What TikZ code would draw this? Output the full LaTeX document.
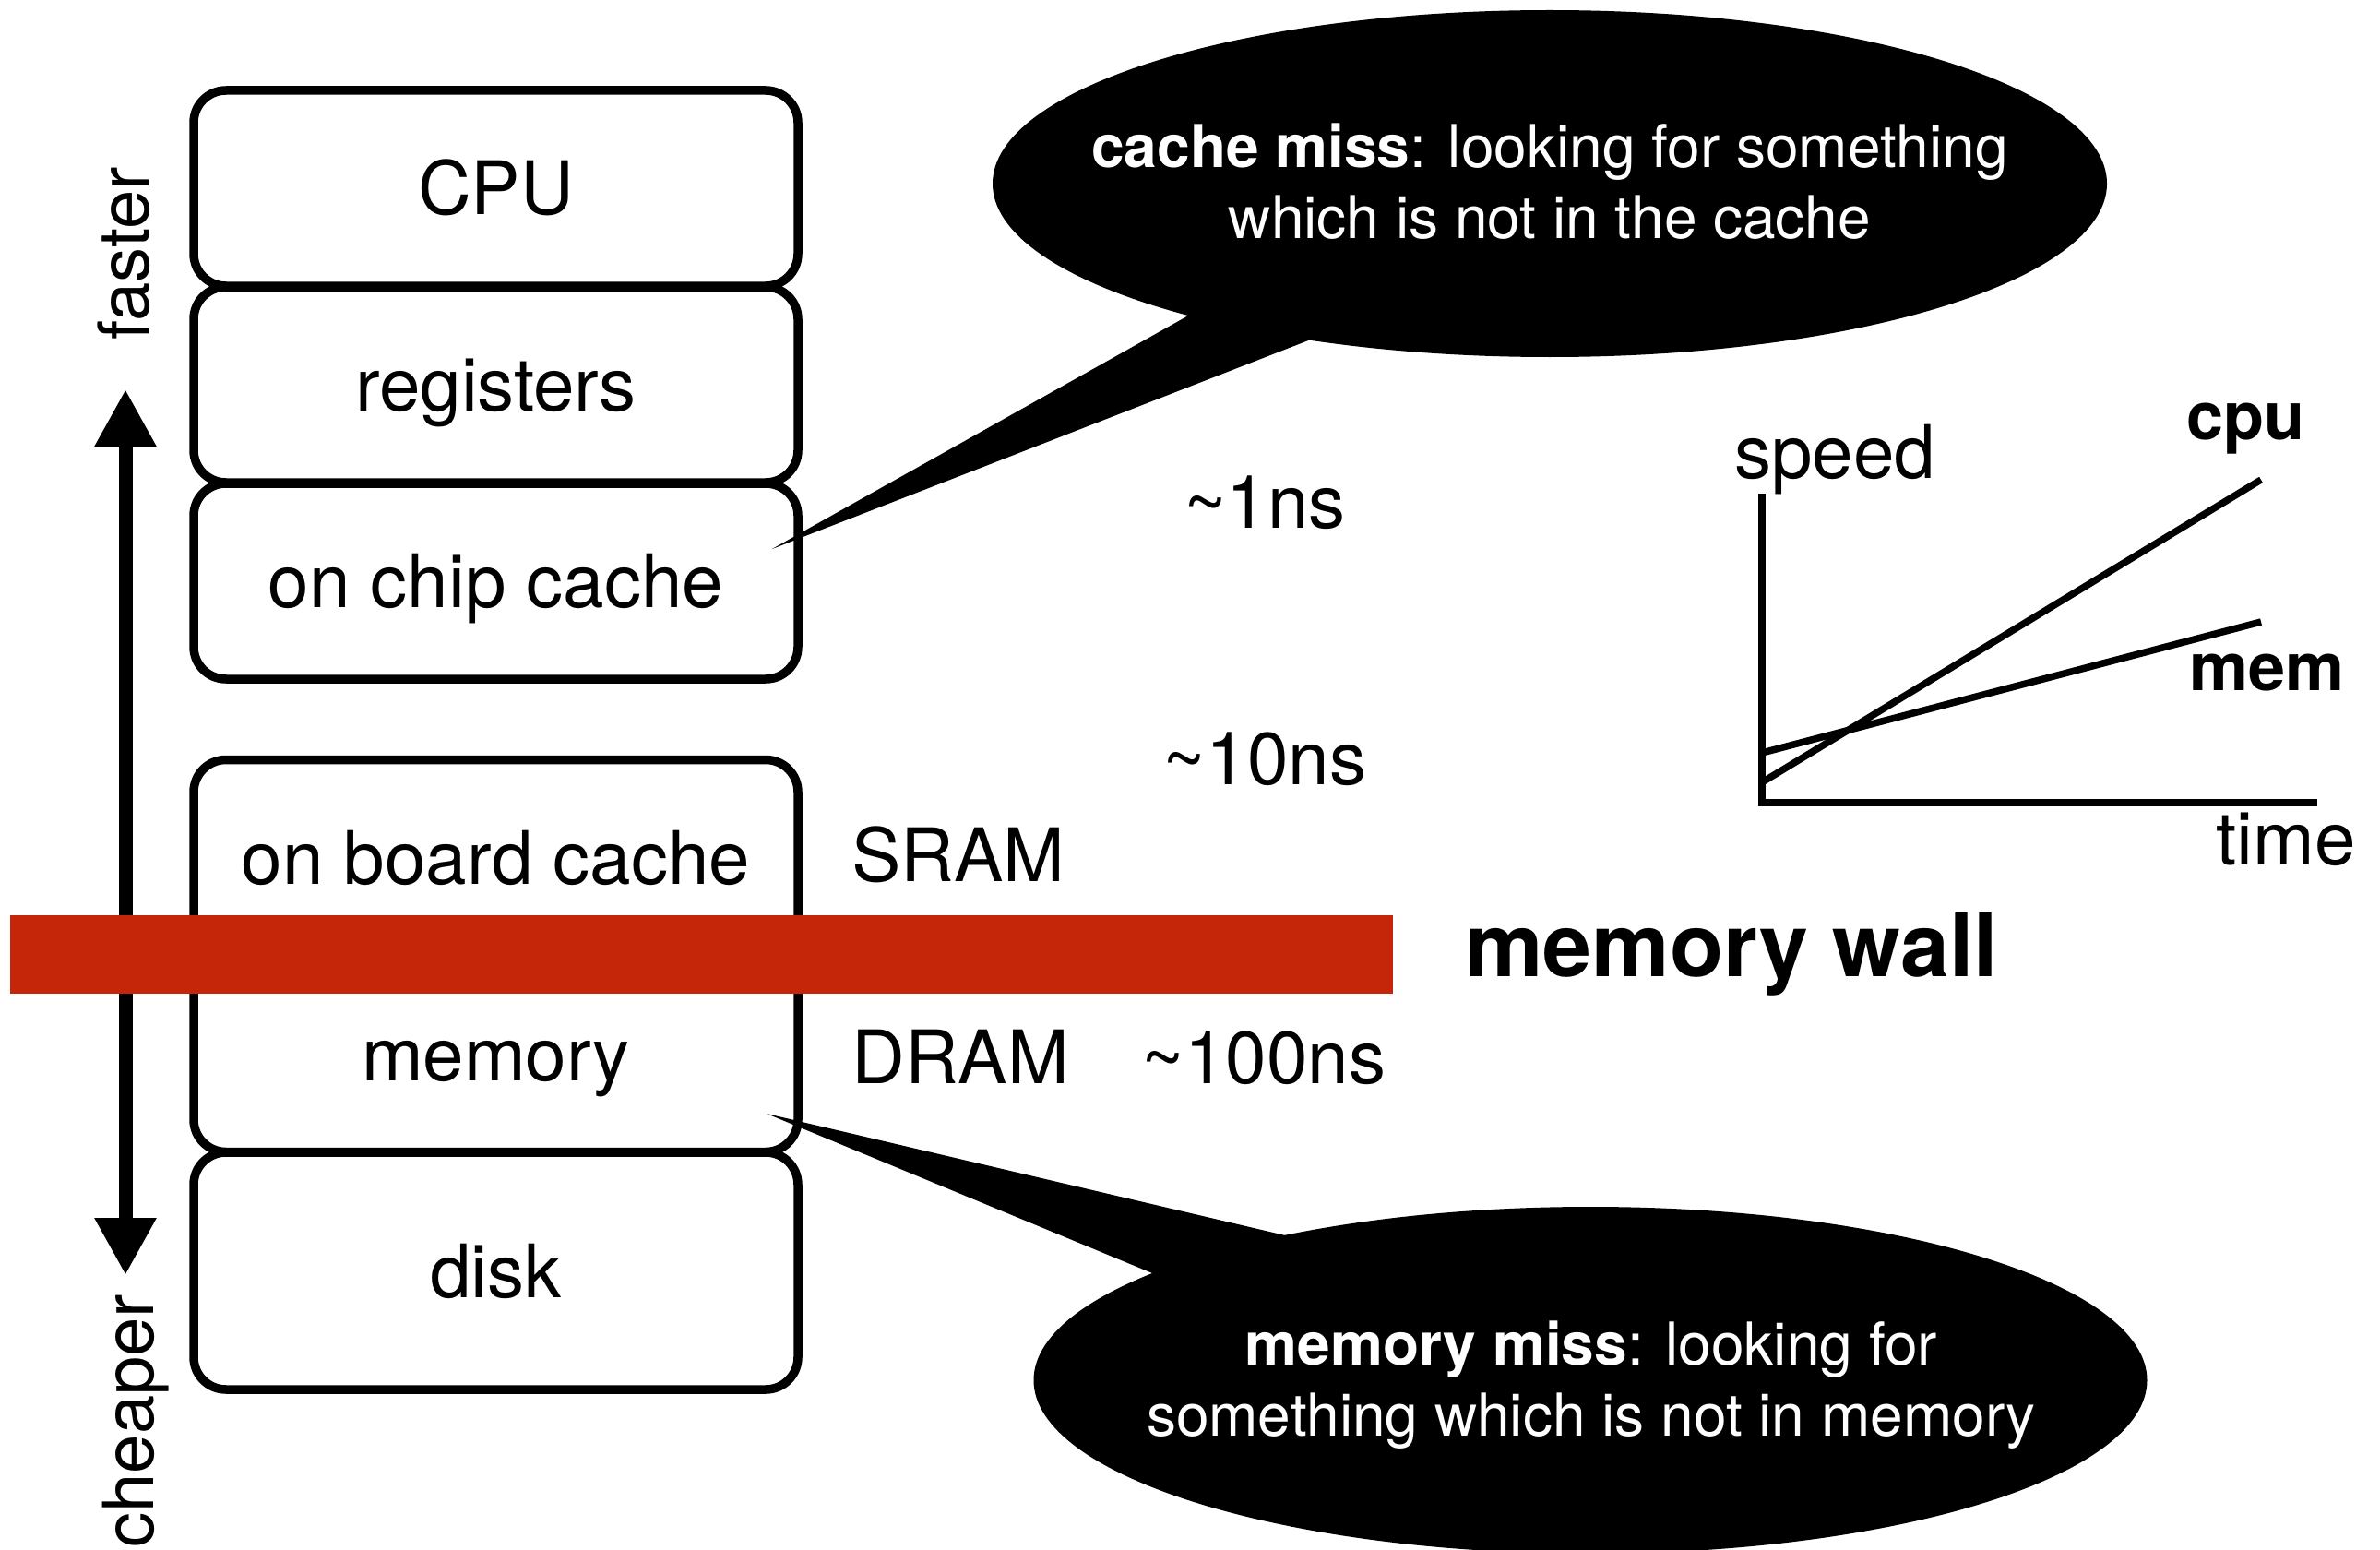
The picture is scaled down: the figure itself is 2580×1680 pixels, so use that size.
\documentclass[tikz,border=0pt]{standalone}
\usepackage{fontspec}
\setmainfont{TeX Gyre Heros}
\usetikzlibrary{arrows.meta}
\definecolor{wallred}{RGB}{197,37,9}
\begin{document}
\begin{tikzpicture}[x=0.5pt,y=-0.5pt,
  level/.style={draw=black, line width=4.75pt, rounded corners=17.5pt,
    minimum width=327.5pt, minimum height=106pt, inner sep=0pt,
    text height=28.8pt, text depth=0pt, font=\fontsize{40}{48}\selectfont},
  plain/.style={inner sep=0pt, font=\fontsize{40}{48}\selectfont},
  side/.style={inner sep=0pt, rotate=90, anchor=base, font=\fontsize{38}{46}\selectfont},
  boldlabel/.style={inner sep=0pt, anchor=base, font=\fontsize{36}{43}\selectfont\bfseries},
  bubble/.style={inner sep=0pt, align=center, text=white, font=\fontsize{32}{38.5}\selectfont},
  bigarrow/.style={line width=7.5pt,
    arrows={Triangle[length=31pt,width=31.5pt]-Triangle[length=31pt,width=31.5pt]}},
  axis/.style={line width=3.75pt}]
\useasboundingbox (0,0) rectangle (2580,1680);
\fill[white] (0,0) rectangle (2580,1680);

% memory hierarchy
\node[level] (cpu)   at (537.5,204)    {CPU};
\node[level] (reg)   at (537.5,417)    {registers};
\node[level] (chip)  at (537.5,630)    {on chip cache};
\node[level] (board) at (537.5,929.5)  {on board cache};
\node[level] (mem)   at (537.5,1142.5) {memory};
\node[level, minimum height=128.5pt] (disk) at (537.5,1377.5) {disk};

% faster / cheaper axis
\coordinate (fastTip)  at (136,422);
\coordinate (cheapTip) at (136,1382);
\draw[bigarrow] (cheapTip) -- (fastTip);
\node[side] (faster)  at (161,275)  {faster};
\node[side] (cheaper) at (166,1540) {cheaper};

% the wall between SRAM and DRAM
\node[fill=wallred, inner sep=0pt, minimum width=749.5pt, minimum height=42.5pt]
  (wall) at (760.5,1034.5) {};
\node[inner sep=0pt, anchor=base west, font=\fontsize{47.5}{57}\selectfont\bfseries]
  (wallname) at (1588,1058) {memory wall};

% technologies and latencies
\node[plain, anchor=base west] (sram) at (923,955)  {SRAM};
\node[plain, anchor=base west] (dram) at (923,1174) {DRAM};
\node[plain, anchor=base] (lat1)   at (1371,572)  {\textasciitilde 1ns};
\node[plain, anchor=base] (lat10)  at (1371,850)  {\textasciitilde 10ns};
\node[plain, anchor=base] (lat100) at (1370,1174) {\textasciitilde 100ns};

% speed over time
\coordinate (ytop)   at (1910,535);
\coordinate (origin) at (1910,870);
\coordinate (xend)   at (2512,870);
\draw[axis] (ytop) -- (origin) -- (xend);
\coordinate (cpuA) at (1910,848);
\coordinate (cpuB) at (2451,520);
\coordinate (memA) at (1910,816);
\coordinate (memB) at (2451,674);
\draw[axis] (cpuA) -- (cpuB);
\draw[axis] (memA) -- (memB);
\node[plain, anchor=base west] (speed) at (1880,518) {speed};
\node[plain, anchor=base east] (time)  at (2554,937) {time};
\node[boldlabel] (cpulbl) at (2434,476) {cpu};
\node[boldlabel] (memlbl) at (2457,748) {mem};

% cache miss callout
\coordinate (cmC)   at (1680,199);
\coordinate (cmTip) at (837,595);
\coordinate (cmL)   at (1340,313);
\coordinate (cmR)   at (1480,345);
\fill[black] (cmC) ellipse [x radius=302pt, y radius=94pt];
\fill[black] (cmL) -- (cmTip) -- (cmR) -- cycle;
\node[bubble] (cmText) at (1680,197)
  {{\bfseries cache miss}: looking for something\\which is not in the cache};

% memory miss callout
\coordinate (mmC)   at (1724,1496);
\coordinate (mmTip) at (831,1207);
\coordinate (mmL)   at (1440,1350);
\coordinate (mmR)   at (1300,1401);
\fill[black] (mmC) ellipse [x radius=301.75pt, y radius=94pt];
\fill[black] (mmL) -- (mmTip) -- (mmR) -- cycle;
\node[bubble] (mmText) at (1725,1501)
  {{\bfseries memory miss}: looking for\\something which is not in memory};
\end{tikzpicture}
\end{document}
